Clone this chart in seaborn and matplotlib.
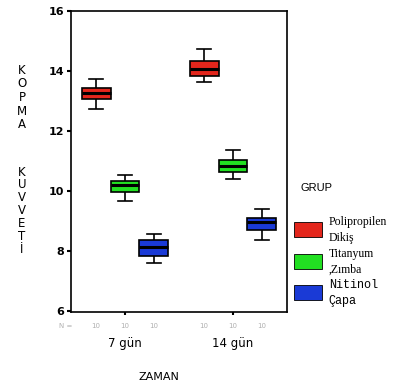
import seaborn as sns
import matplotlib.pyplot as plt
import pandas as pd
import numpy as np

# five-point summaries: low whisker, q1, median, q3, high whisker
times = ['7 gün', '14 gün']
groups = ['Polipropilen\nDikiş', 'Titanyum\n,Zımba', 'Nitinol\nÇapa']
colors = ['#e3261c', '#22e022', '#1a3ad6']
n_counts = [10, 10, 10, 10, 10, 10]

poli_7 = [12.74, 13.06, 13.26, 13.44, 13.73]
tita_7 = [9.64, 9.94, 10.19, 10.33, 10.53]
niti_7 = [7.58, 7.83, 8.12, 8.37, 8.57]
poli_14 = [13.64, 13.83, 14.08, 14.33, 14.73]
tita_14 = [10.39, 10.62, 10.81, 11.01, 11.37]
niti_14 = [8.36, 8.70, 8.95, 9.09, 9.39]

series = {
    ('7 gün', groups[0]): poli_7,
    ('7 gün', groups[1]): tita_7,
    ('7 gün', groups[2]): niti_7,
    ('14 gün', groups[0]): poli_14,
    ('14 gün', groups[1]): tita_14,
    ('14 gün', groups[2]): niti_14,
}
rows = []
for (t, g), vals in series.items():
    for v in vals:
        rows.append({'ZAMAN': t, 'GRUP': g, 'KUVVET': v})
df = pd.DataFrame(rows)

fig = plt.figure(figsize=(4.11, 3.88), dpi=100)
ax = fig.add_axes([71 / 411, 1 - 312 / 388, 216 / 411, 301 / 388])

sns.boxplot(data=df, x='ZAMAN', y='KUVVET', hue='GRUP', order=times,
            hue_order=groups, palette=colors, width=0.8, gap=0.0,
            whis=(0, 100), linewidth=1.2, linecolor='black', saturation=1,
            medianprops={'linewidth': 2.2, 'color': 'black'}, ax=ax, legend=False)

ax.set_xlim(-0.5, 1.5)
ax.set_ylim(5.95, 16.0)
ax.set_yticks([6, 8, 10, 12, 14, 16])
ax.set_yticklabels(['6', '8', '10', '12', '14', '16'], fontsize=8, family='DejaVu Sans',
                   fontweight='semibold')
ax.tick_params(axis='y', length=3, width=1.5, pad=2)
ax.tick_params(axis='x', length=2, width=1.5, pad=16)
ax.set_xticks([0, 1])
ax.set_xticklabels(times, fontsize=8.5, family='DejaVu Sans')
ax.set_xlabel('')
ax.set_ylabel('')
for s in ax.spines.values():
    s.set_linewidth(1.2)

# N = labels under each box
ax.text(-0.49, -0.035, 'N =', transform=ax.get_xaxis_transform(), ha='right', va='top',
        fontsize=5, color='#b0b0b0')
k = 0
for i in range(len(times)):
    for j in range(len(groups)):
        xpos = i + (j - 1) * 0.8 / 3
        ax.text(xpos, -0.035, str(n_counts[k]), transform=ax.get_xaxis_transform(),
                ha='center', va='top', fontsize=5, color='#b0b0b0')
        k += 1

# stacked y label
for idx, ch in enumerate('KOPMA'):
    fig.text(22 / 411, 1 - (70 + idx * 13.7) / 388, ch, ha='center', va='center', fontsize=8.5)
for idx, ch in enumerate('KUVVETİ'):
    fig.text(22 / 411, 1 - (172 + idx * 12.9) / 388, ch, ha='center', va='center', fontsize=8.5)

fig.text(159 / 411, 1 - 377 / 388, 'ZAMAN', ha='center', va='center', fontsize=8)

# legend
fig.text(300 / 411, 1 - 188 / 388, 'GRUP', ha='left', va='center', fontsize=8,
         family='Liberation Sans')
handles = [plt.Rectangle((0, 0), 1, 1, facecolor=c, edgecolor='black', linewidth=0.6)
           for c in colors]
leg = fig.legend(handles, groups, loc='upper left', bbox_to_anchor=(294 / 411, 1 - 216 / 388),
                 frameon=False, handlelength=2.0, handleheight=1.3, handletextpad=0.5,
                 labelspacing=0.25, borderaxespad=0, borderpad=0)
fams = ['Liberation Serif', 'Liberation Serif', 'Liberation Mono']
for t, f in zip(leg.get_texts(), fams):
    t.set_family(f)
    t.set_fontsize(8.5)
    t.set_linespacing(1.45)

fig.savefig('out.png', dpi=100)
